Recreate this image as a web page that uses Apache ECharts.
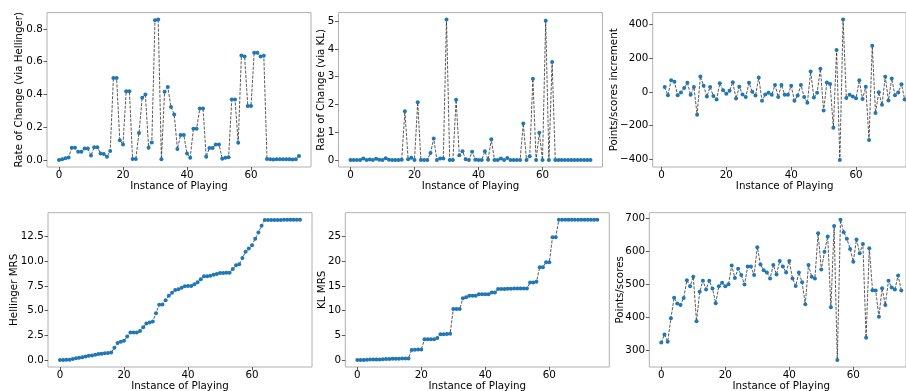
<!DOCTYPE html>
<html>
<head>
<meta charset="utf-8">
<script src="https://cdn.jsdelivr.net/npm/echarts@6/dist/echarts.min.js"></script>
<style>html,body{margin:0;padding:0;background:#fff;overflow:hidden;}#c{width:906px;height:391px;}</style>
</head>
<body>
<div id="c"></div>
<script>
// ---- data ----
const instances = [0,1,2,3,4,5,6,7,8,9,10,11,12,13,14,15,16,17,18,19,20,21,22,23,24,25,26,27,28,29,30,31,32,33,34,35,36,37,38,39,40,41,42,43,44,45,46,47,48,49,50,51,52,53,54,55,56,57,58,59,60,61,62,63,64,65,66,67,68,69,70,71,72,73,74,75];
const incrementInstances = [1,2,3,4,5,6,7,8,9,10,11,12,13,14,15,16,17,18,19,20,21,22,23,24,25,26,27,28,29,30,31,32,33,34,35,36,37,38,39,40,41,42,43,44,45,46,47,48,49,50,51,52,53,54,55,56,57,58,59,60,61,62,63,64,65,66,67,68,69,70,71,72,73,74,75];

const hellingerRate = [0.0,0.005,0.01,0.015,0.075,0.075,0.05,0.05,0.07,0.07,
  0.027,0.077,0.077,0.04,0.037,0.02,0.055,0.5,0.5,0.12,
  0.095,0.42,0.42,0.006,0.006,0.165,0.38,0.40,0.075,0.107,
  0.853,0.857,0.004,0.417,0.445,0.323,0.278,0.067,0.152,0.152,
  0.04,0.014,0.19,0.19,0.315,0.315,0.02,0.073,0.073,0.095,
  0.095,0.008,0.014,0.016,0.37,0.37,0.105,0.638,0.632,0.33,
  0.33,0.654,0.654,0.632,0.636,0.006,0.005,0.003,0.004,0.005,
  0.005,0.004,0.004,0.003,0.004,0.024];

const klRate = [0.01,0.01,0.01,0.01,0.06,0.01,0.03,0.01,0.05,0.02,
  0.01,0.07,0.02,0.01,0.01,0.01,0.02,1.76,0.04,0.09,
  0.01,2.08,0.01,0.01,0.01,0.26,0.78,0.01,0.06,0.06,
  5.05,0.01,0.01,2.17,0.18,0.32,0.04,0.01,0.31,0.02,
  0.01,0.01,0.32,0.02,0.75,0.01,0.01,0.06,0.01,0.08,
  0.01,0.01,0.01,0.01,1.32,0.01,0.14,2.93,0.01,0.99,
  0.01,5.01,0.01,3.53,0.01,0.01,0.01,0.01,0.01,0.01,
  0.01,0.01,0.01,0.01,0.01,0.01];

const scoreIncrement = [28,-20,69,59,-20,-4,22,53,-18,28,
  -136,91,36,-28,28,-24,-45,51,10,-12,
  6,57,-40,30,-16,-30,53,0,-22,85,
  -53,-16,-6,-18,41,-30,41,-18,-18,36,
  -53,-22,41,-30,-65,120,-34,-6,136,-111,
  55,47,-213,247,-403,427,-36,-18,-28,-38,
  69,-43,30,-285,273,-125,-2,-77,89,-51,
  79,-20,-4,45,-45];

const hellingerMRS = [0,0.005,0.02,0.03,0.1,0.18,0.23,0.28,0.35,0.42,
  0.45,0.52,0.6,0.64,0.68,0.7,0.75,1.25,1.72,1.86,
  1.96,2.37,2.78,2.78,2.79,2.94,3.32,3.7,3.8,3.9,
  4.75,5.6,5.63,6.05,6.5,6.82,7.1,7.16,7.33,7.47,
  7.5,7.51,7.68,7.87,8.18,8.48,8.49,8.55,8.63,8.72,
  8.82,8.83,8.84,8.85,9.22,9.6,9.7,10.34,10.97,11.3,
  11.63,12.28,12.93,13.6,14.2,14.2,14.2,14.2,14.2,14.2,
  14.21,14.21,14.21,14.21,14.21,14.22];

const klMRS = [0,0.01,0.02,0.03,0.09,0.1,0.11,0.12,0.17,0.18,
  0.19,0.25,0.26,0.27,0.28,0.29,0.31,2.03,2.07,2.12,
  2.13,4.2,4.2,4.2,4.21,4.45,5.2,5.2,5.25,5.3,
  10.3,10.3,10.3,12.5,12.7,13.0,13.0,13.0,13.3,13.3,
  13.3,13.3,13.65,13.65,14.35,14.35,14.36,14.4,14.4,14.45,
  14.45,14.45,14.45,14.45,15.7,15.7,15.85,18.8,18.8,19.8,
  19.8,24.85,24.85,28.4,28.4,28.4,28.4,28.4,28.4,28.4,
  28.4,28.4,28.4,28.4,28.4,28.4];

const scores = [322,347,325,396,459,441,437,458,512,494,
  523,387,477,511,484,511,487,442,494,505,
  494,500,557,519,547,528,499,554,554,528,
  613,560,543,536,518,559,530,571,554,536,
  571,518,495,536,506,439,559,523,518,656,
  545,599,646,430,678,269,697,659,639,608,
  569,637,595,623,337,610,482,481,401,488,
  437,511,490,484,527,481];

const xTicks = [0,20,40,60];
const yTicksHellRate = [0,0.2,0.4,0.6,0.8];
const yTicksKlRate = [0,1,2,3,4,5];
const yTicksIncrement = [-400,-200,0,200,400];
const yTicksHellMRS = [0,2.5,5,7.5,10,12.5];
const yTicksKlMRS = [0,5,10,15,20,25];
const yTicksScores = [300,400,500,600,700];

const xTitle = 'Instance of Playing';
const yTitles = ['Rate of Change (via Hellinger)','Rate of Change (via KL)','Points/scores increment','Hellinger MRS','KL MRS','Points/scores'];

// ---- layout ----
const FONT = 'DejaVu Sans';
const FS = 10.3;
const W = 906;
// grid: [left, top, full width, height]; ty: x-centre of the rotated y title
const panels = [
  {x: instances, y: hellingerRate, yt: yTicksHellRate, fmt: v => v.toFixed(1), grid: [47, 12.6, 264, 154.4], ty: 19.6},
  {x: instances, y: klRate, yt: yTicksKlRate, fmt: v => String(v), grid: [338.5, 12.6, 264, 154.4], ty: 321.3},
  {x: incrementInstances, y: scoreIncrement, yt: yTicksIncrement, fmt: v => String(v).replace('-', '\u2212'), grid: [652.7, 12.6, 264, 154.4], ty: 614.2},
  {x: instances, y: hellingerMRS, yt: yTicksHellMRS, fmt: v => v.toFixed(1), grid: [48, 212.7, 264, 154.3], ty: 14.3},
  {x: instances, y: klMRS, yt: yTicksKlMRS, fmt: v => String(v), grid: [345.3, 212.7, 264, 154.3], ty: 322},
  {x: instances, y: scores, yt: yTicksScores, fmt: v => String(v), grid: [649.3, 212.7, 264, 154.3], ty: 620.5}
];

function lim(arr) {
  const mn = Math.min.apply(null, arr), mx = Math.max.apply(null, arr);
  const m = (mx - mn) * 0.05;
  return [mn - m, mx + m];
}

const grids = [], xAxes = [], yAxes = [], series = [], titles = [];
const fontStr = FS + 'px "' + FONT + '"';
panels.forEach((p, i) => {
  const left = p.grid[0], top = p.grid[1], fullW = p.grid[2], h = p.grid[3];
  const visW = Math.min(fullW, W - left);      // the reference figure is cropped at the right edge
  const xl = lim(p.x), yl = lim(p.y);
  const xMaxVis = xl[0] + (xl[1] - xl[0]) * visW / fullW;
  grids.push({left: left, top: top, width: visW, height: h,
    show: true, borderColor: '#b0b0b0', borderWidth: 1, backgroundColor: 'transparent', containLabel: false});
  xAxes.push({type: 'value', gridIndex: i, min: xl[0], max: xMaxVis, position: 'bottom',
    axisLine: {show: false, onZero: false}, splitLine: {show: false},
    axisTick: {show: true, length: 3.5, lineStyle: {color: '#333', width: 0.8}, customValues: xTicks},
    axisLabel: {customValues: xTicks, margin: 3.8, color: '#000', fontFamily: FONT, fontSize: FS, formatter: v => String(v)}});
  yAxes.push({type: 'value', gridIndex: i, min: yl[0], max: yl[1], position: 'left',
    axisLine: {show: false, onZero: false}, splitLine: {show: false},
    axisTick: {show: true, length: 3.5, lineStyle: {color: '#333', width: 0.8}, customValues: p.yt},
    axisLabel: {customValues: p.yt, margin: 4.3, color: '#000', fontFamily: FONT, fontSize: FS, formatter: p.fmt}});
  series.push({type: 'line', xAxisIndex: i, yAxisIndex: i,
    data: p.x.map((xv, k) => [xv, p.y[k]]),
    symbol: 'circle', symbolSize: 4, showSymbol: true, showAllSymbol: true,
    lineStyle: {color: '#222', width: 0.75, type: [3, 1.4]},
    itemStyle: {color: '#1f77b4', borderWidth: 0},
    emphasis: {disabled: true}, silent: true, animation: false});
  // x title, centred on the full (uncropped) axes
  titles.push({type: 'text', x: left + fullW / 2, y: top + h + 18.9, silent: true,
    style: {text: xTitle, fill: '#000', font: fontStr, align: 'center', verticalAlign: 'middle'}});
  // y title, rotated
  titles.push({type: 'text', x: p.ty, y: top + h / 2, rotation: Math.PI / 2, silent: true,
    style: {text: yTitles[i], fill: '#000', font: fontStr, align: 'center', verticalAlign: 'middle'}});
});

const chart = echarts.init(document.getElementById('c'), null, {renderer: 'canvas', width: 906, height: 391});
chart.setOption({animation: false, backgroundColor: '#fff', grid: grids, xAxis: xAxes, yAxis: yAxes, series: series, graphic: titles});
</script>
</body>
</html>
